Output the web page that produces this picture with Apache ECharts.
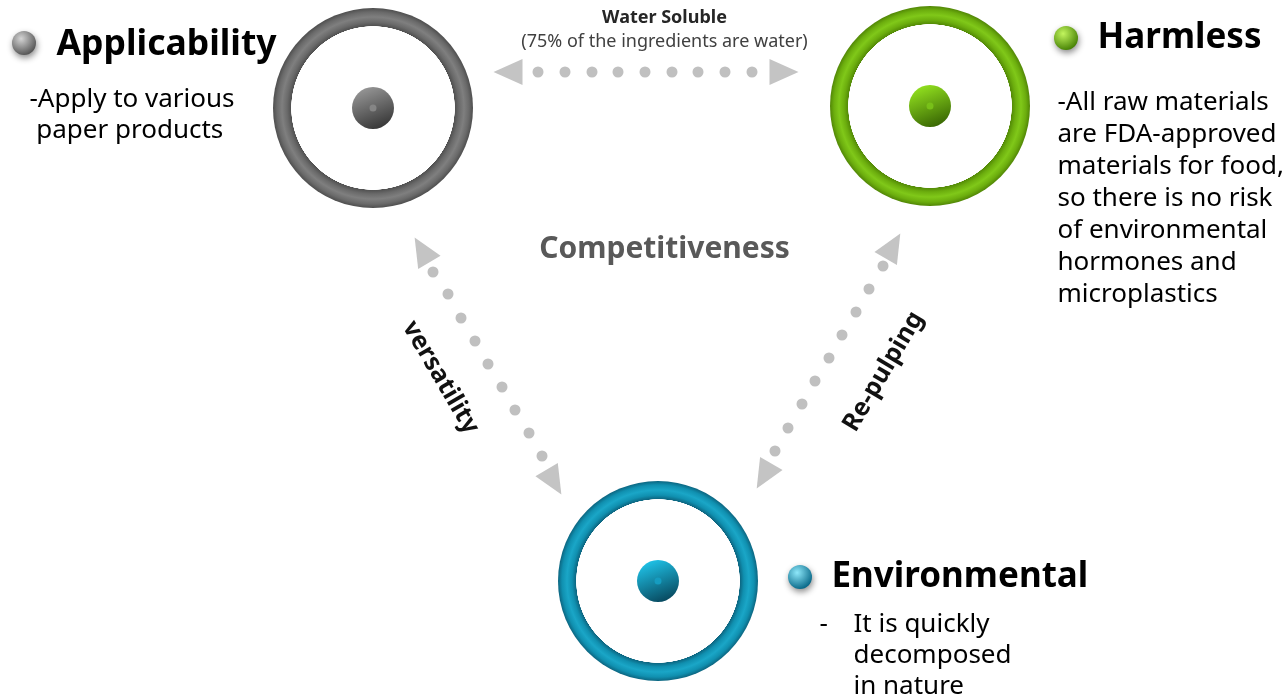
<!DOCTYPE html>
<html>
<head>
<meta charset="utf-8">
<script src="https://cdn.jsdelivr.net/npm/echarts@6/dist/echarts.min.js"></script>
<style>
html,body{margin:0;padding:0;background:#fff;}
#c{width:1286px;height:700px;}
</style>
</head>
<body>
<div id="c"></div>
<script>
// ---- data ----
const nodeNames = ['Applicability', 'Harmless', 'Environmental'];
const nodeX = [373, 930, 658];
const nodeY = [108, 106, 581];
const bulletX = [24, 1066, 800];
const bulletY = [43, 38, 577];
const descriptions = [
  '-Apply to various\n paper products',
  '-All raw materials\nare FDA-approved\nmaterials for food,\nso there is no risk\nof environmental\nhormones and\nmicroplastics',
  'It is quickly\ndecomposed\nin nature'
];
const linkNames = ['Water Soluble', 'versatility', 'Re-pulping'];
const linkNote = '(75% of the ingredients are water)';
const centerTitle = 'Competitiveness';
// dots read along each connector
const topDots = [[538,72],[565,72],[592,72],[618,72],[645,72],[672,72],[698,72],[725,72],[752,72]];
const leftDots = [[433,272],[448,294],[461,318],[475,341],[488,364],[502,387],[515,410],[529,433],[542,456]];
const rightDots = [[883,266],[869,289],[856,312],[842,335],[829,358],[815,381],[802,404],[788,428],[775,451]];
// arrow heads: x, y, rotation (deg)
const arrowHeads = [[508,72,90],[784,72,-90],[422,250,30.6],[554,482,210.6],[893,246,-30.3],[764,476,149.7]];

// ---- styles ----
const FONT = '"Noto Sans", "Open Sans", sans-serif';
const ringStops = [
  ['#505050','#6a6a6a','#7f7f7f','#6a6a6a','#4e4e4e'],
  ['#538a06','#6cae0e','#80c819','#6cae0e','#518606'],
  ['#0c6580','#1090b0','#1aa6c7','#1090b0','#0c6580']
];
const hubColors = [['#9a9a9a','#383838','#858585'],['#96e620','#3a6804','#78c018'],['#20c8ee','#084a60','#159cc0']];
const bulletColors = [['#d4d4d4','#555555'],['#c2f55e','#478205'],['#8ee8fa','#086888']];

function ringGrad(s){
  return {type:'radial',x:0.5,y:0.5,r:0.5,colorStops:[
    {offset:0,color:'rgba(255,255,255,0)'},
    {offset:0.815,color:'rgba(255,255,255,0)'},
    {offset:0.82,color:s[0]},
    {offset:0.86,color:s[1]},
    {offset:0.91,color:s[2]},
    {offset:0.96,color:s[3]},
    {offset:1,color:s[4]}
  ]};
}

const rings = nodeNames.map((n,i)=>({name:n,value:[nodeX[i],nodeY[i]],itemStyle:{color:ringGrad(ringStops[i])}}));
const hubs = nodeNames.map((n,i)=>({name:n,value:[nodeX[i],nodeY[i]],itemStyle:{color:{type:'linear',x:0.2,y:0,x2:0.6,y2:1,colorStops:[{offset:0,color:hubColors[i][0]},{offset:1,color:hubColors[i][1]}]}}}));
const hubCaps = nodeNames.map((n,i)=>({name:n,value:[nodeX[i],nodeY[i]],itemStyle:{color:hubColors[i][2]}}));
const bullets = nodeNames.map((n,i)=>({name:n,value:[bulletX[i],bulletY[i]],itemStyle:{color:{type:'radial',x:0.38,y:0.32,r:0.7,colorStops:[{offset:0,color:bulletColors[i][0]},{offset:1,color:bulletColors[i][1]}]}}}));

function txt(x,y,text,opt){
  return {value:[x,y],name:text,label:Object.assign({show:true,formatter:text,position:[0,0],align:'left',verticalAlign:'middle',fontFamily:FONT,color:'#000'},opt)};
}
const texts = [
  txt(57,45,nodeNames[0],{fontSize:35.5,fontWeight:'bold'}),
  txt(1098,39,nodeNames[1],{fontSize:35,fontWeight:'bold'}),
  txt(832,578,nodeNames[2],{fontSize:35,fontWeight:'bold'}),
  txt(30,116,descriptions[0],{fontSize:26,lineHeight:31}),
  txt(1058,199,descriptions[1],{fontSize:26,lineHeight:32}),
  txt(820,625,'-',{fontSize:26}),
  txt(854,656,descriptions[2],{fontSize:26,lineHeight:31}),
  txt(665,18,linkNames[0],{fontSize:18,fontWeight:'bold',align:'center',color:'#262626'}),
  txt(665,42,linkNote,{fontSize:18,align:'center',color:'#404040'}),
  txt(665,250,centerTitle,{fontSize:30,fontWeight:'bold',align:'center',color:'#595959'}),
  txt(441,378,linkNames[1],{fontSize:25,fontWeight:'bold',align:'center',rotate:-59.5,color:'#111'}),
  txt(884,372,linkNames[2],{fontSize:25,fontWeight:'bold',align:'center',rotate:59.5,color:'#111'})
];

const base = {type:'scatter',silent:true,itemStyle:{opacity:1}};
const chart = echarts.init(document.getElementById('c'),null,{renderer:'canvas'});
chart.setOption({
  backgroundColor:'#fff',
  animation:false,
  grid:{left:0,right:0,top:0,bottom:0},
  xAxis:{type:'value',min:0,max:1286,show:false},
  yAxis:{type:'value',min:0,max:700,inverse:true,show:false},
  series:[
    Object.assign({},base,{data:topDots.concat(leftDots,rightDots),symbolSize:11,itemStyle:{color:'#c0c0c0',opacity:1}}),
    Object.assign({},base,{data:arrowHeads.map(a=>({value:[a[0],a[1]],symbolRotate:a[2]})),symbol:'triangle',symbolSize:[26,29],itemStyle:{color:'#c4c4c4',opacity:1}}),
    Object.assign({},base,{data:rings,symbolSize:200}),
    Object.assign({},base,{data:hubs,symbolSize:42}),
    Object.assign({},base,{data:hubCaps,symbolSize:7}),
    Object.assign({},base,{data:bullets,symbolSize:24,itemStyle:{opacity:1,shadowBlur:6,shadowColor:'rgba(0,0,0,0.45)',shadowOffsetX:1,shadowOffsetY:3}}),
    Object.assign({},base,{data:texts,symbolSize:1,itemStyle:{color:'rgba(0,0,0,0)',opacity:1}})
  ]
});
</script>
</body>
</html>
